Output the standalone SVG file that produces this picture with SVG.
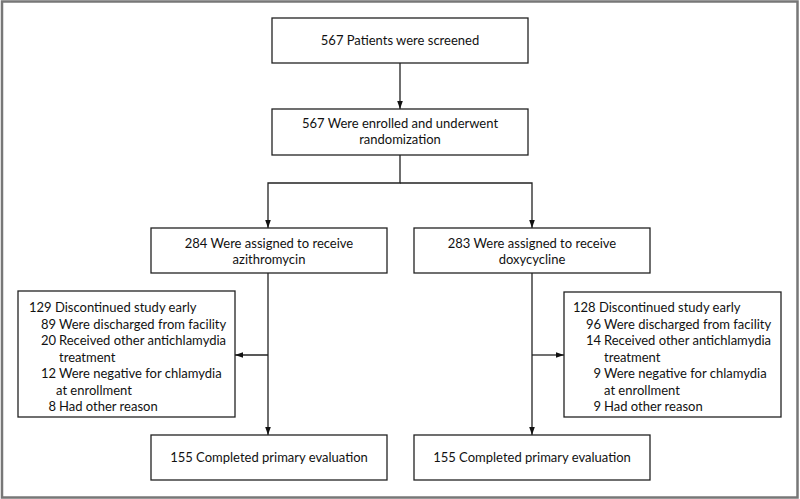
<svg xmlns="http://www.w3.org/2000/svg" width="800" height="499" viewBox="0 0 800 499">
<defs>
<style>
.box{fill:#fff;stroke:#222;stroke-width:1.3}
.t{font-family:"Lato","Liberation Sans",sans-serif;font-size:13px;fill:#111}
.c{text-anchor:middle}
.e{text-anchor:end}
.ln{fill:none;stroke:#222;stroke-width:1.3}
</style>
<marker id="ah" viewBox="0 0 10 10" refX="10" refY="5" markerWidth="8" markerHeight="8" markerUnits="userSpaceOnUse" orient="auto">
<path d="M0,1.5 L10,5 L0,8.5 z" fill="#111"/>
</marker>
</defs>
<rect x="0" y="0" width="800" height="499" fill="#fff"/>
<rect x="2" y="1.5" width="795.5" height="496" fill="none" stroke="#777" stroke-width="2.5"/>
<g id="connectors">
<path class="ln" d="M400,63 V109" marker-end="url(#ah)"/>
<path class="ln" d="M400,155 V183 H268 V228" marker-end="url(#ah)"/>
<path class="ln" d="M400,183 H532 V228" marker-end="url(#ah)"/>
<path class="ln" d="M268,273 V435" marker-end="url(#ah)"/>
<path class="ln" d="M532,273 V435" marker-end="url(#ah)"/>
<path class="ln" d="M268,355 H235" marker-end="url(#ah)"/>
<path class="ln" d="M532,355 H564" marker-end="url(#ah)"/>
</g>
<g id="screened">
<rect class="box" x="272" y="18" width="256" height="45"/>
<text class="t c" x="400" y="45">567 Patients were screened</text>
</g>
<g id="enrolled">
<rect class="box" x="272" y="109" width="256" height="46"/>
<text class="t c" x="400" y="128">567 Were enrolled and underwent</text>
<text class="t c" x="400" y="144">randomization</text>
</g>
<g id="azithro">
<rect class="box" x="151" y="228" width="236" height="45"/>
<text class="t c" x="269" y="247.5">284 Were assigned to receive</text>
<text class="t c" x="269" y="263.5">azithromycin</text>
</g>
<g id="doxy">
<rect class="box" x="414" y="228" width="236" height="45"/>
<text class="t c" x="532" y="247.5">283 Were assigned to receive</text>
<text class="t c" x="532" y="263.5">doxycycline</text>
</g>
<g id="disc-left">
<rect class="box" x="18" y="291" width="217" height="126"/>
<text class="t" x="29" y="312">129 Discontinued study early</text>
<text class="t e" x="56" y="328.5">89</text><text class="t" x="59" y="328.5">Were discharged from facility</text>
<text class="t e" x="56" y="345">20</text><text class="t" x="59" y="345">Received other antichlamydia</text>
<text class="t" x="59" y="361.5">treatment</text>
<text class="t e" x="56" y="378">12</text><text class="t" x="59" y="378">Were negative for chlamydia</text>
<text class="t" x="56" y="394.5">at enrollment</text>
<text class="t e" x="56" y="411">8</text><text class="t" x="59" y="411">Had other reason</text>
</g>
<g id="disc-right">
<rect class="box" x="564" y="292" width="217" height="125"/>
<text class="t" x="573" y="312">128 Discontinued study early</text>
<text class="t e" x="601" y="328.5">96</text><text class="t" x="604" y="328.5">Were discharged from facility</text>
<text class="t e" x="601" y="345">14</text><text class="t" x="604" y="345">Received other antichlamydia</text>
<text class="t" x="604" y="361.5">treatment</text>
<text class="t e" x="601" y="378">9</text><text class="t" x="604" y="378">Were negative for chlamydia</text>
<text class="t" x="604" y="394.5">at enrollment</text>
<text class="t e" x="601" y="411">9</text><text class="t" x="604" y="411">Had other reason</text>
</g>
<g id="completed-left">
<rect class="box" x="151" y="435" width="236" height="45"/>
<text class="t c" x="269" y="462">155 Completed primary evaluation</text>
</g>
<g id="completed-right">
<rect class="box" x="414" y="435" width="236" height="45"/>
<text class="t c" x="532" y="462">155 Completed primary evaluation</text>
</g>
</svg>
